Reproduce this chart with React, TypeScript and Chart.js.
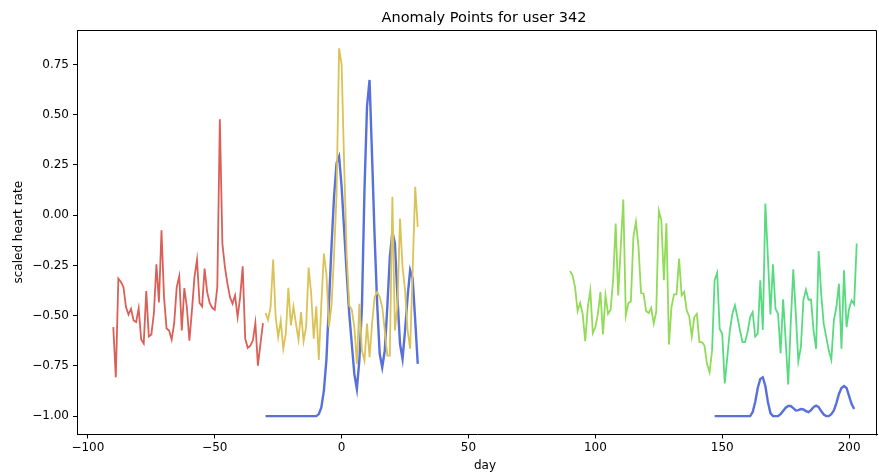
import React, { useEffect, useRef } from "react";
import { Chart, registerables } from "chart.js";

Chart.register(...registerables);

const TITLE = "Anomaly Points for user 342";
const X_LABEL = "day";
const Y_LABEL = "scaled heart rate";

const redStartDay = -90;
const redValues = [
  -0.557, -0.807, -0.316, -0.333, -0.357, -0.457, -0.494, -0.466, -0.524, -0.532,
  -0.464, -0.619, -0.639, -0.378, -0.604, -0.594, -0.489, -0.245, -0.434, -0.075,
  -0.408, -0.564, -0.574, -0.619, -0.539, -0.358, -0.304, -0.574, -0.363, -0.457,
  -0.624, -0.474, -0.308, -0.221, -0.437, -0.454, -0.266, -0.383, -0.437, -0.461,
  -0.471, -0.358, 0.477, -0.141, -0.258, -0.341, -0.408, -0.441, -0.399, -0.507,
  -0.408, -0.254, -0.615, -0.66, -0.649, -0.624, -0.536, -0.749, -0.64, -0.537,
];

const yellowStartDay = -30;
const yellowValues = [
  -0.487, -0.521, -0.457, -0.221, -0.507, -0.607, -0.524, -0.665, -0.59, -0.361,
  -0.549, -0.454, -0.54, -0.619, -0.482, -0.627, -0.557, -0.261, -0.391, -0.615,
  -0.454, -0.72, -0.441, -0.191, -0.291, -0.557, -0.45, -0.2, 0.1, 0.83,
  0.75, 0.25, -0.2, -0.449, -0.47, -0.557, -0.74, -0.441, -0.674, -0.724,
  -0.54, -0.707, -0.54, -0.407, -0.382, -0.407, -0.457, -0.574, -0.699, -0.699,
  0.092, -0.574, -0.45, -0.017, -0.258, -0.374, -0.574, -0.665, -0.274, 0.141,
  -0.058,
];

const limeStartDay = 90;
const limeValues = [
  -0.278, -0.299, -0.358, -0.477, -0.437, -0.491, -0.627, -0.46, -0.374, -0.587,
  -0.557, -0.491, -0.382, -0.594, -0.399, -0.491, -0.471, -0.324, -0.042, -0.399,
  -0.16, 0.078, -0.499, -0.437, -0.429, -0.108, -0.033, -0.158, -0.388, -0.391,
  -0.477, -0.487, -0.461, -0.54, -0.48, 0.022, -0.025, -0.324, -0.04, -0.644,
  -0.457, -0.394, -0.394, -0.216, -0.399, -0.382, -0.474, -0.504, -0.604, -0.507,
  -0.491, -0.632, -0.632, -0.649, -0.74, -0.782, -0.674,
];

const greenStartDay = 146;
const greenValues = [
  -0.674, -0.324, -0.288, -0.566, -0.59, -0.837, -0.707, -0.574, -0.491, -0.449,
  -0.507, -0.574, -0.632, -0.632, -0.582, -0.507, -0.482, -0.604, -0.59, -0.324,
  -0.571, 0.058, -0.208, -0.494, -0.245, -0.466, -0.491, -0.687, -0.419, -0.624,
  -0.843, -0.54, -0.269, -0.491, -0.727, -0.657, -0.421, -0.371, -0.421, -0.42,
  -0.574, -0.665, -0.178, -0.391, -0.54, -0.607, -0.674, -0.72, -0.524, -0.457,
  -0.341, -0.665, -0.274, -0.557, -0.466, -0.424, -0.444, -0.141,
];

const blueStartDayA = -30;
const blueValuesA = [
  -1.0, -1.0, -1.0, -1.0, -1.0, -1.0, -1.0, -1.0, -1.0, -1.0,
  -1.0, -1.0, -1.0, -1.0, -1.0, -1.0, -1.0, -1.0, -1.0, -1.0,
  -1.0, -0.99, -0.957, -0.873, -0.72, -0.44, -0.158, 0.09, 0.258, 0.291,
  0.141, -0.075, -0.291, -0.49, -0.64, -0.79, -0.865, -0.72, -0.457, 0.125,
  0.54, 0.673, 0.291, -0.108, -0.441, -0.69, -0.757, -0.674, -0.457, -0.208,
  -0.083, -0.141, -0.407, -0.64, -0.715, -0.574, -0.407, -0.274, -0.316, -0.524,
  -0.74,
];

const blueStartDayB = 147;
const blueValuesB = [
  -1.0, -1.0, -1.0, -1.0, -1.0, -1.0, -1.0, -1.0, -1.0, -1.0,
  -1.0, -1.0, -1.0, -1.0, -1.0, -0.98, -0.93, -0.86, -0.815, -0.807,
  -0.85, -0.93, -0.985, -1.0, -1.0, -1.0, -0.99, -0.975, -0.958, -0.95,
  -0.95, -0.96, -0.972, -0.97, -0.965, -0.967, -0.975, -0.98, -0.97, -0.955,
  -0.948, -0.955, -0.975, -0.992, -1.0, -1.0, -0.99, -0.972, -0.935, -0.89,
  -0.86, -0.85, -0.86, -0.9, -0.94, -0.965,
];

const xTicks = [-100, -50, 0, 50, 100, 150, 200];
const yTicks = [-1.0, -0.75, -0.5, -0.25, 0.0, 0.25, 0.5, 0.75];

const X_MIN = -104.3;
const X_MAX = 211.0;
const Y_MIN = -1.0915;
const Y_MAX = 0.9215;

const FONT = "'DejaVu Sans', sans-serif";

function toPoints(start: number, values: number[]) {
  return values.map((v, i) => ({ x: start + i, y: v }));
}

function fmtMinus(s: string) {
  return s.replace("-", "\u2212");
}

export default function App() {
  const canvasRef = useRef<HTMLCanvasElement | null>(null);

  useEffect(() => {
    document.body.style.margin = "0";
    const canvas = canvasRef.current;
    if (!canvas) return;

    const lineDs = (label: string, pts: any[], color: string, width: number) => ({
      label,
      data: pts,
      borderColor: color,
      backgroundColor: color,
      borderWidth: width,
      pointRadius: 0,
      pointHoverRadius: 0,
      fill: false,
      tension: 0,
    });

    const framePlugin = {
      id: "frameAndTitle",
      afterDraw(chart: any) {
        const { ctx, chartArea } = chart;
        const l = Math.round(chartArea.left) + 0.5;
        const r = Math.round(chartArea.right) - 0.5;
        const t = Math.round(chartArea.top) + 0.5;
        const b = Math.round(chartArea.bottom) + 0.5;
        ctx.save();
        ctx.strokeStyle = "#000";
        ctx.lineWidth = 1;
        ctx.beginPath();
        ctx.moveTo(l, t);
        ctx.lineTo(r, t);
        ctx.lineTo(r, b);
        ctx.stroke();
        ctx.fillStyle = "#000";
        ctx.textAlign = "center";
        ctx.textBaseline = "middle";
        const cx = (chartArea.left + chartArea.right) / 2 + 7;
        ctx.font = `14.5px ${FONT}`;
        ctx.fillText(TITLE, cx, 18);
        ctx.font = `12px ${FONT}`;
        ctx.fillText(X_LABEL, cx + 1, 466);
        ctx.restore();
      },
    };

    const chart = new Chart(canvas, {
      type: "line",
      data: {
        datasets: [
          lineDs("red", toPoints(redStartDay, redValues), "#db5f57", 1.8),
          lineDs("yellow", toPoints(yellowStartDay, yellowValues), "#dbc257", 1.8),
          lineDs("lime", toPoints(limeStartDay, limeValues), "#91db57", 1.8),
          lineDs("green", toPoints(greenStartDay, greenValues), "#57db80", 1.8),
          lineDs("blueA", toPoints(blueStartDayA, blueValuesA), "#5770db", 2.4),
          lineDs("blueB", toPoints(blueStartDayB, blueValuesB), "#5770db", 2.4),
        ],
      },
      options: {
        animation: false,
        responsive: true,
        maintainAspectRatio: false,
        layout: { padding: { top: 30, left: 0, right: 2, bottom: 0 } },
        plugins: {
          legend: { display: false },
          title: { display: false },
          tooltip: { enabled: false },
        },
        scales: {
          x: {
            type: "linear",
            min: X_MIN,
            max: X_MAX,
            afterBuildTicks: (s: any) => {
              s.ticks = xTicks.map((v) => ({ value: v }));
            },
            afterFit: (s: any) => {
              s.height = 40.5;
            },
            ticks: {
              autoSkip: false,
              maxRotation: 0,
              padding: 2,
              color: "#000",
              font: { family: FONT, size: 12 },
              callback: (v: any) => fmtMinus(String(v)),
            },
            grid: {
              display: true,
              drawOnChartArea: false,
              drawTicks: true,
              tickLength: 4,
              color: "#000",
              tickColor: "#000",
            },
            border: { display: true, color: "#000", width: 1 },
            title: { display: false },
          },
          y: {
            type: "linear",
            min: Y_MIN,
            max: Y_MAX,
            afterBuildTicks: (s: any) => {
              s.ticks = yTicks.map((v) => ({ value: v }));
            },
            afterFit: (s: any) => {
              s.width = 77;
            },
            ticks: {
              autoSkip: false,
              padding: 4,
              color: "#000",
              font: { family: FONT, size: 12 },
              callback: (v: any) => fmtMinus(Number(v).toFixed(2)),
            },
            grid: {
              display: true,
              drawOnChartArea: false,
              drawTicks: true,
              tickLength: 4,
              color: "#000",
              tickColor: "#000",
            },
            border: { display: true, color: "#000", width: 1 },
            title: {
              display: true,
              text: Y_LABEL,
              color: "#000",
              font: { family: FONT, size: 12 },
              padding: { top: 12, bottom: 0 },
            },
          },
        },
      } as any,
      plugins: [framePlugin],
    });

    return () => {
      chart.destroy();
    };
  }, []);

  return (
    <div style={{ position: "absolute", left: 0, top: 0, width: 879, height: 475, background: "#fff" }}>
      <canvas ref={canvasRef} />
    </div>
  );
}
